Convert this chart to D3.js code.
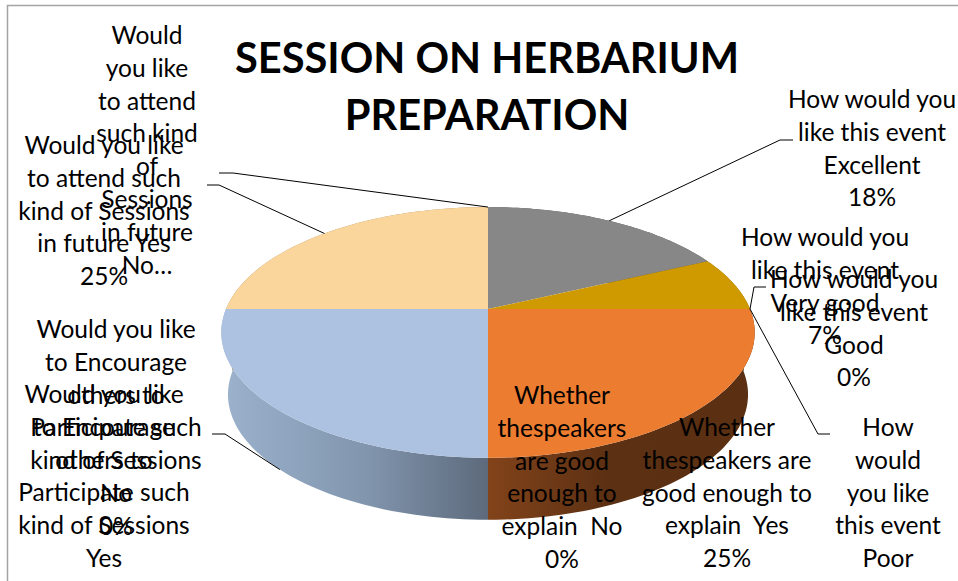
<!DOCTYPE html>
<html>
<head>
<meta charset="utf-8">
<script src="https://cdn.jsdelivr.net/npm/d3@7"></script>
<style>
    html, body { margin: 0; padding: 0; background: #fff; overflow: hidden; }
    text { font-family: Lato, "Open Sans", sans-serif; fill: #000; }
</style>
</head>
<body>
<div id="chart"></div>
<script>
// Values, clockwise from 12 o'clock
const categories = [
    'Excellent', 'Very good', 'Good', 'Poor',
    'Speakers Yes', 'Speakers No',
    'Encourage Yes', 'Encourage No',
    'Attend Yes', 'Attend No'
];
const values = [18, 7, 0, 0, 25, 0, 25, 0, 25, 0];
const titleLines = ['SESSION ON HERBARIUM', 'PREPARATION'];
const labelLines = [
    ['How would you', 'like this event', 'Excellent', '18%'],
    ['How would you', 'like this event', 'Very good', '7%'],
    ['How would you', 'like this event', 'Good', '0%'],
    ['How', 'would', 'you like', 'this event', 'Poor', '0%'],
    ['Whether', 'thespeakers are', 'good enough to', 'explain  Yes', '25%'],
    ['Whether', 'thespeakers', 'are good', 'enough to', 'explain  No', '0%'],
    ['Would you like', 'to Encourage', 'others to', 'Participate such', 'kind of Sessions', 'Yes', '25%'],
    ['Would you like', 'to Encourage', 'others to', 'Participate such', 'kind of Sessions', 'No', '0%'],
    ['Would you like', 'to attend such', 'kind of Sessions', 'in future Yes', '25%'],
    ['Would', 'you like', 'to attend', 'such kind', 'of', 'Sessions', 'in future', 'No…']
];

// Layout, in the same order as the categories
const colors = ['#878787', '#cf9900', '#a5a5a5', '#ffc000', '#ec7c30', '#5b9bd5', '#adc2e0', '#70ad47', '#fbd69c', '#264478'];
const labelPos = [
    { x: 872, y: 99 }, { x: 825, y: 237 }, { x: 854, y: 279 }, { x: 888, y: 427 },
    { x: 727, y: 427 }, { x: 562, y: 395 }, { x: 104, y: 394 }, { x: 116, y: 329 },
    { x: 104, y: 145 }, { x: 147, y: 35 }
];
// Elbow and end of each leader; wall: true anchors it on the lower rim
const leaders = [
    { i: 0, elbow: [780, 140], end: [793, 140] },
    { i: 2, elbow: [754, 287], end: [766, 287] },
    { i: 3, elbow: [818, 434], end: [830, 434] },
    { i: 6, elbow: [225, 434], end: [212, 434], wall: true },
    { i: 8, elbow: [219, 185], end: [207, 185] },
    { i: 9, elbow: [233, 173], end: [219, 173] }
];

const width = 958;
const height = 581;
const lineHeight = 32.8;

const svg = d3.select('#chart')
    .append('svg')
    .attr('width', width)
    .attr('height', height)
    .style('display', 'block');

// Frame of the chart, cut off by the window on the right and bottom
svg.append('path')
    .attr('d', 'M7.5,' + height + 'V5.5H' + width)
    .attr('fill', 'none')
    .attr('stroke', '#a3a3a3')
    .attr('stroke-width', 1.5);

// Perspective of the 3D pie: a unit circle mapped on to the tilted disc
const cx = 488, cy = 309, rx = 262, depth = 62;
const persp = -0.187, tilt = 63.2;
const project = angle => {
    const u = Math.sin(angle), v = -Math.cos(angle);
    const w = persp * v + 1;
    return [cx + rx * u / w, (tilt * v + cy) / w];
};
const projectWall = angle => {
    const p = project(angle);
    return [cx + (p[0] - cx) * 0.975, p[1] + depth];
};
const arcAngles = d => d3.range(0, 61).map(i => d.startAngle + (d.endAngle - d.startAngle) * i / 60);

const pie = d3.pie().sort(null).value(d => d);
const slices = pie(values);
const line = d3.line();

// Gradients of the outer wall
const defs = svg.append('defs');
const addGradient = (id, x1, x2, stops) => {
    const g = defs.append('linearGradient')
        .attr('id', id)
        .attr('gradientUnits', 'userSpaceOnUse')
        .attr('x1', x1).attr('x2', x2)
        .attr('y1', 0).attr('y2', 0);
    stops.forEach(s => g.append('stop').attr('offset', s[0]).attr('stop-color', s[1]));
};
addGradient('wall-blue', 221, 488, [[0, '#9cb2cd'], [0.55, '#8195ad'], [1, '#5d6a7c']]);
addGradient('wall-orange', 488, 755, [[0, '#82431a'], [0.45, '#5c3013'], [1, '#5a2f12']]);
const wallFill = { 4: 'url(#wall-orange)', 6: 'url(#wall-blue)' };

// Walls first, the top faces cover whatever is at the back.
// One quad per step, so the silhouette at the far left and right stays filled
svg.selectAll('.wall')
    .data(slices.filter(d => d.value > 0))
    .enter().append('path')
    .attr('class', 'wall')
    .attr('d', d => {
        const a = arcAngles(d);
        return a.slice(1).map((t, i) => line([
            project(a[i]), project(t), projectWall(t), projectWall(a[i])
        ]) + 'Z').join('');
    })
    .attr('fill', d => wallFill[d.index] || d3.color(colors[d.index]).darker(1.2));

svg.selectAll('.top')
    .data(slices.filter(d => d.value > 0))
    .enter().append('path')
    .attr('class', 'top')
    .attr('d', d => line([[cx, cy]].concat(arcAngles(d).map(project))) + 'Z')
    .attr('fill', d => colors[d.index]);

// Leader lines
svg.selectAll('.leader')
    .data(leaders)
    .enter().append('path')
    .attr('class', 'leader')
    .attr('d', d => {
        const s = slices[d.i];
        const mid = (s.startAngle + s.endAngle) / 2;
        return line([d.wall ? projectWall(mid) : project(mid), d.elbow, d.end]);
    })
    .attr('fill', 'none')
    .attr('stroke', '#000')
    .attr('stroke-width', 1);

// Data labels, overlapping as they do in the original
const labels = svg.selectAll('.label')
    .data(labelLines)
    .enter().append('text')
    .attr('class', 'label')
    .attr('text-anchor', 'middle')
    .attr('font-size', 24.5);
labels.selectAll('tspan')
    .data((d, i) => d.map((t, j) => ({ t: t, x: labelPos[i].x, y: labelPos[i].y + j * lineHeight })))
    .enter().append('tspan')
    .attr('x', d => d.x)
    .attr('y', d => d.y)
    .attr('dy', '0.37em')
    .style('white-space', 'pre')
    .text(d => d.t);

// Title
svg.selectAll('.title')
    .data(titleLines)
    .enter().append('text')
    .attr('class', 'title')
    .attr('x', 487)
    .attr('y', (d, i) => 58 + i * 57)
    .attr('dy', '0.36em')
    .attr('text-anchor', 'middle')
    .attr('font-size', 41.6)
    .attr('font-weight', 700)
    .text(d => d);
</script>
</body>
</html>
